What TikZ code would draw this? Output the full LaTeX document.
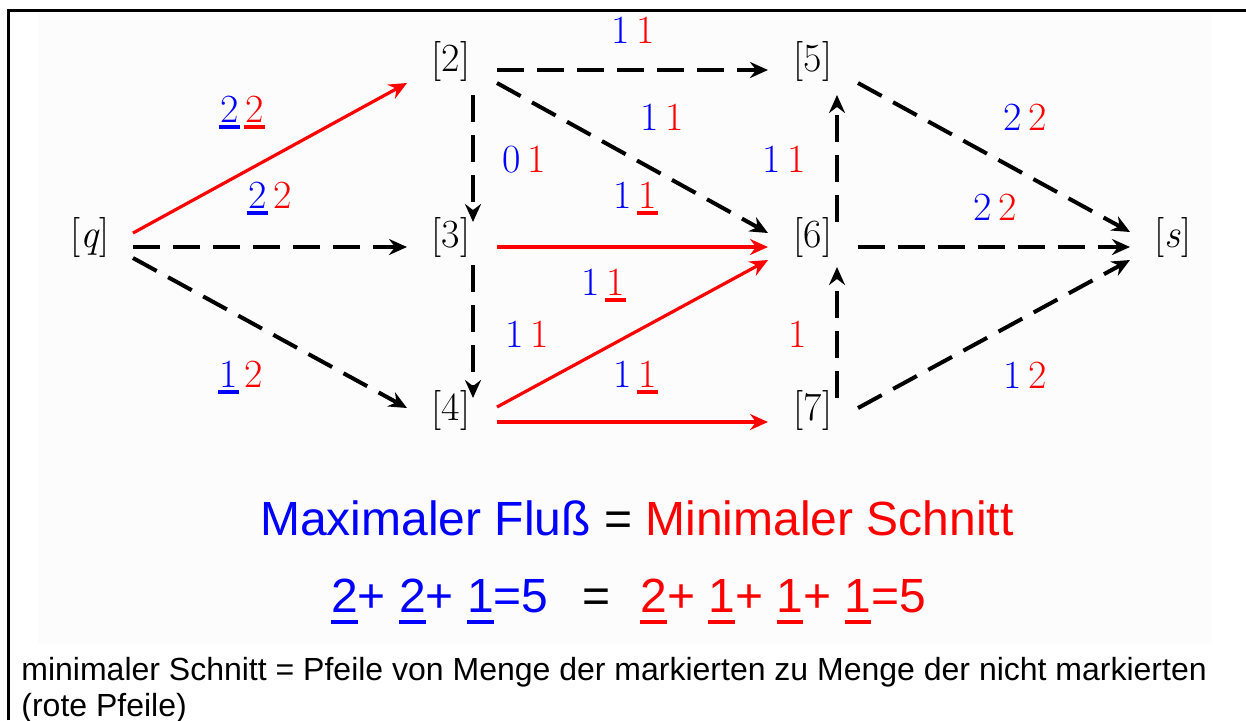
\documentclass[tikz,border=0pt]{standalone}
\usepackage{fontspec}
\newfontfamily\arial{Liberation Sans}
\usetikzlibrary{arrows.meta}
\newcommand\ud[1]{\leavevmode\setbox0\hbox{#1}\rlap{\kern-0.7pt\rule[-3.5pt]{\dimexpr\wd0+1.4pt\relax}{2pt}}\box0}
\newcommand\udb[1]{\leavevmode\setbox0\hbox{#1}\rlap{\rule[-6pt]{\wd0}{2pt}}\box0}
\tikzset{
  lbl/.style={font=\fontsize{20}{24}\selectfont, inner sep=0pt, anchor=base},
  vtx/.style={font=\fontsize{20}{24}\selectfont, inner sep=0pt},
  frm/.style={font=\arial\fontsize{24}{28}\selectfont, inner sep=0pt},
  note/.style={font=\arial\fontsize{16}{18}\selectfont, inner sep=0pt, anchor=base west},
  tip/.style={-{Stealth[length=9pt,width=8pt,inset=3pt]}},
  dsh/.style={tip, draw=black, line width=2pt, dash pattern=on 13.5pt off 6.5pt},
  cut/.style={tip, draw=red, line width=1.6pt},
}
\begin{document}
\begin{tikzpicture}[x=0.5pt,y=-0.5pt]
\useasboundingbox (0,0) rectangle (1246,720);
\fill[black!1] (38,12) rectangle (1212,644);
\draw[line width=1.5pt] (8.5,720) -- (8.5,10.5) -- (1246,10.5);

% vertices
\node[vtx] (q)  at (90,237)   {[\textit{q}]};
\node[vtx] (n2) at (451,61)   {[2]};
\node[vtx] (n3) at (451,237)  {[3]};
\node[vtx] (n4) at (451,410)  {[4]};
\node[vtx] (n5) at (813,61)   {[5]};
\node[vtx] (n6) at (813,237)  {[6]};
\node[vtx] (n7) at (813,410)  {[7]};
\node[vtx] (s)  at (1173,237) {[\textit{s}]};

% edges
\draw[cut] ([shift={(43,-4)}]q.center) -- ([shift={(-44,22)}]n2.center);
\draw[dsh] ([shift={(43,10)}]q.center) -- ([shift={(-44,10)}]n3.center);
\draw[dsh] ([shift={(43,21)}]q.center) -- ([shift={(-44,-2)}]n4.center);
\draw[dsh] ([shift={(46,9)}]n2.center) -- ([shift={(-45,9)}]n5.center);
\draw[dsh] ([shift={(22,34)}]n2.center) -- ([shift={(22,-15)}]n3.center);
\draw[dsh] ([shift={(46,22)}]n2.center) -- ([shift={(-45,-4)}]n6.center);
\draw[cut] ([shift={(46,10)}]n3.center) -- ([shift={(-45,10)}]n6.center);
\draw[dsh] ([shift={(22,28)}]n3.center) -- ([shift={(22,-12)}]n4.center);
\draw[cut] ([shift={(46,-3)}]n4.center) -- ([shift={(-45,23)}]n6.center);
\draw[cut] ([shift={(46,12)}]n4.center) -- ([shift={(-45,12)}]n7.center);
\draw[dsh] ([shift={(24,-15)}]n6.center) -- ([shift={(24,34)}]n5.center);
\draw[dsh] ([shift={(24,-12)}]n7.center) -- ([shift={(24,30)}]n6.center);
\draw[dsh] ([shift={(45,22)}]n5.center) -- ([shift={(-43,-5)}]s.center);
\draw[dsh] ([shift={(45,10)}]n6.center) -- ([shift={(-43,10)}]s.center);
\draw[dsh] ([shift={(45,-2)}]n7.center) -- ([shift={(-43,23)}]s.center);

% edge labels
\node[lbl] (lq2) at (242,122)  {\textcolor{blue}{\ud{2}}\kern3.5pt\textcolor{red}{\ud{2}}};
\node[lbl] (lq3) at (270,208)  {\textcolor{blue}{\ud{2}}\kern3.5pt\textcolor{red}{2}};
\node[lbl] (lq4) at (241,387)  {\textcolor{blue}{\ud{1}}\kern3.5pt\textcolor{red}{2}};
\node[lbl] (l25) at (633,43)   {\textcolor{blue}{1}\kern3.5pt\textcolor{red}{1}};
\node[lbl] (l26) at (662,130)  {\textcolor{blue}{1}\kern3.5pt\textcolor{red}{1}};
\node[lbl] (l23) at (524,172)  {\textcolor{blue}{0}\kern3.5pt\textcolor{red}{1}};
\node[lbl] (l65) at (784,172)  {\textcolor{blue}{1}\kern3.5pt\textcolor{red}{1}};
\node[lbl] (l36) at (635,208)  {\textcolor{blue}{1}\kern3.5pt\textcolor{red}{\ud{1}}};
\node[lbl] (l46) at (603,295)  {\textcolor{blue}{1}\kern3.5pt\textcolor{red}{\ud{1}}};
\node[lbl] (l34) at (527,347)  {\textcolor{blue}{1}\kern3.5pt\textcolor{red}{1}};
\node[lbl] (l76) at (798,347)  {\textcolor{red}{1}};
\node[lbl] (l47) at (635,387)  {\textcolor{blue}{1}\kern3.5pt\textcolor{red}{\ud{1}}};
\node[lbl] (l5s) at (1025,130) {\textcolor{blue}{2}\kern3.5pt\textcolor{red}{2}};
\node[lbl] (l6s) at (995,220)  {\textcolor{blue}{2}\kern3.5pt\textcolor{red}{2}};
\node[lbl] (l7s) at (1025,388) {\textcolor{blue}{1}\kern3.5pt\textcolor{red}{2}};

% formulas
\node[frm, anchor=base] (title) at (637,535) {\textcolor{blue}{Maximaler Fluß} = \textcolor{red}{Minimaler Schnitt}};
\node[frm, anchor=base east] (fb) at (549,612) {\color{blue}\udb{2}+ \udb{2}+ \udb{1}=5};
\node[frm, anchor=base] (feq) at (597,612) {=};
\node[frm, anchor=base west] (fr) at (640,612) {\color{red}\udb{2}+ \udb{1}+ \udb{1}+ \udb{1}=5};

% note
\node[note] (note1) at (21,680) {minimaler Schnitt = Pfeile von Menge der markierten zu Menge der nicht markierten};
\node[note] (note2) at (21,716) {(rote Pfeile)};
\end{tikzpicture}
\end{document}
